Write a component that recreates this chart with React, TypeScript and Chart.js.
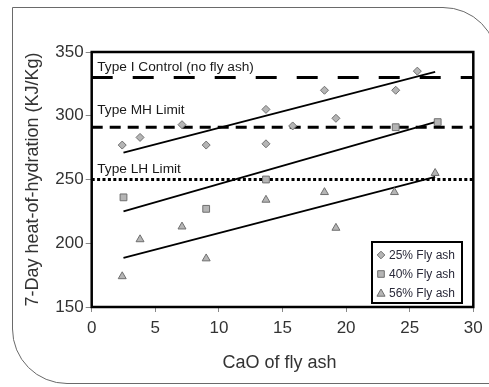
import React, { useEffect, useRef } from 'react';
import { Chart, registerables } from 'chart.js';

Chart.register(...registerables);

// 7-day heat of hydration vs. CaO content of the fly ash
const cao25 = [2.4, 3.8, 7.1, 9.0, 13.7, 13.7, 15.8, 18.3, 19.2, 23.9, 25.6];
const heat25 = [277, 283, 293, 277, 278, 305, 292, 320, 298, 320, 335];

const cao40 = [2.5, 9.0, 13.7, 23.9, 27.2];
const heat40 = [236, 227, 250, 291, 295];

const cao56 = [2.4, 3.8, 7.1, 9.0, 13.7, 18.3, 19.2, 23.8, 27.0];
const heat56 = [174, 203, 213, 188, 234, 240, 212, 240, 255];

// linear trend lines (start / end)
const trendX = [2.5, 27.0];
const trend25 = [271, 334.5];
const trend40 = [225, 295];
const trend56 = [188.5, 252];

// specification limits
const limitNames = ['Type I Control (no fly ash)', 'Type MH Limit', 'Type LH Limit'];
const limitValues = [330, 291, 250];

const seriesNames = ['25% Fly ash', '40% Fly ash', '56% Fly ash'];
const xTicks = [0, 30, 5];
const yTicks = [150, 350, 50];

const FONT = '"Liberation Sans", Arial, Helvetica, sans-serif';
const TEXT = '#333333';
const MARK_FILL = '#b5b5b5';
const MARK_EDGE = '#6f6f6f';

const pts = (xs: number[], ys: number[]) => xs.map((x, i) => ({ x, y: ys[i] }));

function drawDiamond(ctx: CanvasRenderingContext2D, x: number, y: number, r: number) {
  ctx.beginPath();
  ctx.moveTo(x, y - r);
  ctx.lineTo(x + r, y);
  ctx.lineTo(x, y + r);
  ctx.lineTo(x - r, y);
  ctx.closePath();
  ctx.fill();
  ctx.stroke();
}
function drawSquare(ctx: CanvasRenderingContext2D, x: number, y: number, h: number) {
  ctx.beginPath();
  ctx.rect(x - h, y - h, 2 * h, 2 * h);
  ctx.fill();
  ctx.stroke();
}
function drawTriangle(ctx: CanvasRenderingContext2D, x: number, y: number, r: number) {
  ctx.beginPath();
  ctx.moveTo(x, y - r);
  ctx.lineTo(x + r * 0.9, y + r * 0.6);
  ctx.lineTo(x - r * 0.9, y + r * 0.6);
  ctx.closePath();
  ctx.fill();
  ctx.stroke();
}

const decorations = {
  id: 'decorations',
  afterDatasetsDraw(chart: any) {
    const { ctx, chartArea: a } = chart;
    ctx.save();
    ctx.strokeStyle = '#000';
    ctx.lineWidth = 2.5;
    ctx.strokeRect(a.left, a.top, a.right - a.left, a.bottom - a.top);
    ctx.restore();
  },
  afterDraw(chart: any) {
    const { ctx, chartArea: a, scales } = chart;
    const ys = scales.y;
    ctx.save();

    // limit labels
    ctx.fillStyle = '#1a1a1a';
    ctx.font = `13.7px ${FONT}`;
    ctx.textAlign = 'left';
    ctx.textBaseline = 'alphabetic';
    const offsets = [6.5, 13, 6.5];
    limitNames.forEach((name, i) => {
      ctx.fillText(name, a.left + 5.5, ys.getPixelForValue(limitValues[i]) - offsets[i]);
    });

    // axis titles
    ctx.fillStyle = TEXT;
    ctx.font = `18px ${FONT}`;
    ctx.textAlign = 'center';
    ctx.textBaseline = 'middle';
    ctx.fillText('CaO of fly ash', (a.left + a.right) / 2 - 3, 363);
    ctx.translate(33, (a.top + a.bottom) / 2);
    ctx.rotate(-Math.PI / 2);
    ctx.fillText('7-Day heat-of-hydration (KJ/Kg)', 0, 0);
    ctx.restore();

    // legend
    ctx.save();
    const bx = 372, by = 242, bw = 90, bh = 61;
    ctx.fillStyle = '#fff';
    ctx.fillRect(bx, by, bw, bh);
    ctx.strokeStyle = '#000';
    ctx.lineWidth = 2;
    ctx.strokeRect(bx, by, bw, bh);
    const rows = [255, 274, 293];
    ctx.fillStyle = MARK_FILL;
    ctx.strokeStyle = MARK_EDGE;
    ctx.lineWidth = 1;
    drawDiamond(ctx, 381, rows[0], 3.8);
    drawSquare(ctx, 381, rows[1], 3.3);
    drawTriangle(ctx, 381, rows[2] + 0.5, 4.5);
    ctx.fillStyle = '#2a2a3a';
    ctx.font = `12px ${FONT}`;
    ctx.textAlign = 'left';
    ctx.textBaseline = 'middle';
    seriesNames.forEach((n, i) => ctx.fillText(n, 389, rows[i] + 0.5));
    ctx.restore();
  },
};

export default function App() {
  const ref = useRef<HTMLCanvasElement>(null);

  useEffect(() => {
    if (!ref.current) return;
    const markerBase = {
      type: 'scatter' as const,
      backgroundColor: MARK_FILL,
      borderColor: MARK_EDGE,
      pointBorderWidth: 1,
      showLine: false,
      order: 0,
    };
    const lineBase = {
      type: 'line' as const,
      borderColor: '#000',
      pointRadius: 0,
      fill: false,
      showLine: true,
      tension: 0,
      order: 2,
    };
    const chart = new Chart(ref.current, {
      type: 'scatter',
      data: {
        datasets: [
          { ...markerBase, label: seriesNames[0], data: pts(cao25, heat25), pointStyle: 'rectRot', pointRadius: 4 },
          { ...markerBase, label: seriesNames[1], data: pts(cao40, heat40), pointStyle: 'rect', pointRadius: 4.8 },
          { ...markerBase, label: seriesNames[2], data: pts(cao56, heat56), pointStyle: 'triangle', pointRadius: 4.6 },
          { ...lineBase, label: 'trend 25', data: pts(trendX, trend25), borderWidth: 1.8 },
          { ...lineBase, label: 'trend 40', data: pts(trendX, trend40), borderWidth: 1.8 },
          { ...lineBase, label: 'trend 56', data: pts(trendX, trend56), borderWidth: 1.8 },
          { ...lineBase, label: limitNames[0], data: pts([0, 30], [limitValues[0], limitValues[0]]), borderWidth: 3, borderDash: [21, 20], order: 3 },
          { ...lineBase, label: limitNames[1], data: pts([0, 30], [limitValues[1], limitValues[1]]), borderWidth: 3, borderDash: [11, 7], order: 3 },
          { ...lineBase, label: limitNames[2], data: pts([0, 30], [limitValues[2], limitValues[2]]), borderWidth: 3, borderDash: [3, 2.4], order: 3 },
        ],
      },
      options: {
        responsive: false,
        animation: false,
        layout: { padding: { left: 0, right: 15.7, top: 52, bottom: 0 } },
        plugins: { legend: { display: false }, tooltip: { enabled: false } },
        scales: {
          x: {
            type: 'linear',
            min: xTicks[0],
            max: xTicks[1],
            ticks: { stepSize: xTicks[2], color: TEXT, font: { family: FONT, size: 17 }, padding: 6 },
            grid: { display: true, drawOnChartArea: false, drawTicks: true, tickLength: 5, color: '#888', lineWidth: 1 },
            border: { display: false },
            afterFit: (s: any) => { s.height = 80; },
          },
          y: {
            type: 'linear',
            min: yTicks[0],
            max: yTicks[1],
            ticks: { stepSize: yTicks[2], color: TEXT, font: { family: FONT, size: 17 }, padding: 2 },
            grid: { display: true, drawOnChartArea: false, drawTicks: true, tickLength: 6, color: '#888', lineWidth: 1 },
            border: { display: false },
            afterFit: (s: any) => { s.width = 91.7; },
          },
        },
      },
      plugins: [decorations],
    } as any);
    return () => chart.destroy();
  }, []);

  return (
    <div style={{ position: 'fixed', left: 0, top: 0, width: 489, height: 387, overflow: 'hidden', background: '#fff' }}>
      <div
        style={{
          position: 'absolute',
          left: 12,
          top: 7,
          width: 486,
          height: 377,
          border: '1.4px solid #6a6a6a',
          borderRadius: '0 55px 0 55px',
          boxSizing: 'border-box',
        }}
      />
      <canvas ref={ref} width={489} height={387} style={{ position: 'absolute', left: 0, top: 0, width: 489, height: 387 }} />
    </div>
  );
}
